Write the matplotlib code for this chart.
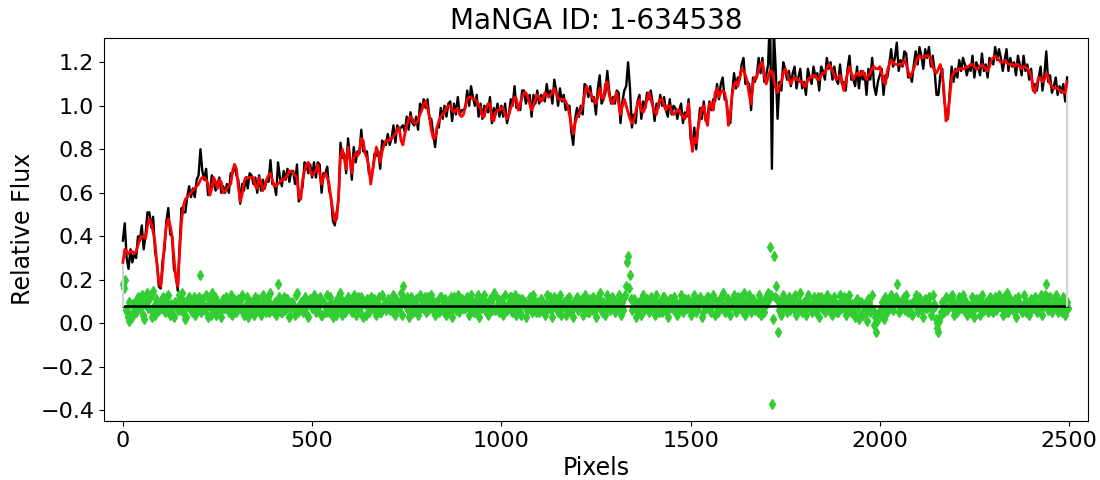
import numpy as np
import matplotlib
matplotlib.use("Agg")
import matplotlib.pyplot as plt

# ---- data (flux values in units of 0.01) ----
title = "MaNGA ID: 1-634538"
pixel_step = 5
baseline = 0.08

# best-fit model (red), sampled every 5 pixels from pixel 0
model_c = [
    28,34,33,32,33,33,32,33,36,39,40,40,39,45,48,46,42,37,27,19,
    17,25,37,45,48,45,40,30,21,17,33,47,54,57,58,59,60,61,62,63,
    64,66,67,67,66,64,59,62,67,65,62,66,65,60,61,62,63,64,70,73,
    71,63,56,59,65,67,67,67,67,67,63,62,67,65,61,63,66,68,69,66,
    63,63,64,65,66,66,67,68,70,70,69,68,67,58,57,66,70,73,74,70,
    68,69,70,73,69,64,67,69,67,64,57,52,47,48,58,77,80,76,71,81,
    76,69,76,78,77,79,85,84,78,76,72,64,70,76,81,78,74,79,82,84,
    84,84,85,86,87,89,90,84,82,87,91,94,95,94,92,92,93,96,98,101,
    102,99,95,89,85,85,90,93,95,96,97,99,100,100,98,97,98,99,96,95,
    96,100,103,104,104,103,103,102,100,99,95,95,99,101,101,94,93,97,98,98,
    99,99,96,94,96,99,101,104,103,98,101,104,106,106,104,101,98,100,103,105,
    104,102,103,106,105,104,105,106,108,106,103,103,103,103,102,100,96,91,87,92,
    95,96,98,100,105,109,107,106,104,103,101,104,108,104,103,110,111,105,102,101,
    104,106,101,96,100,103,100,97,94,92,93,97,101,103,98,97,99,103,106,103,
    100,97,96,101,103,103,100,98,100,100,97,96,97,98,98,96,95,94,96,101,
    89,79,85,83,90,95,99,100,94,91,101,101,98,106,108,104,106,107,106,102,
    91,96,105,110,111,109,113,117,116,114,111,105,101,110,113,113,117,119,120,114,
    110,113,116,116,112,108,106,109,111,115,117,115,112,110,112,113,112,112,111,111,
    109,109,112,113,113,114,114,112,112,114,115,115,117,119,118,116,114,112,113,114,
    111,107,111,115,118,115,112,114,115,114,114,116,114,112,114,115,117,118,117,117,
    118,115,111,110,116,119,121,120,119,119,119,119,119,121,119,116,113,115,117,120,
    122,123,122,122,123,123,123,122,118,116,115,117,119,115,106,93,95,104,113,115,
    116,116,117,117,117,117,118,118,119,119,118,117,117,118,119,118,117,116,118,121,
    122,123,122,121,120,120,121,120,119,119,119,118,119,119,118,117,118,118,117,116,
    114,108,106,110,113,113,111,112,115,113,110,109,108,108,108,107,107,106,106,111,
]

# residuals (green diamonds minus the 0.08 offset) at the model pixels
resid_c = [
    10,12,-3,-7,1,-5,0,-3,4,-1,5,-6,2,6,3,-2,7,-4,1,-2,
    -1,4,-3,2,5,-4,0,-5,1,-2,3,6,-3,-6,0,4,-2,1,-4,3,
    4,14,3,-1,5,-5,0,6,-2,-4,2,1,-5,3,-1,2,-3,5,-1,0,
    -3,3,-1,5,-4,0,-5,2,1,-3,4,-2,1,-4,5,-1,0,-3,6,-2,
    1,-4,10,2,-3,4,-1,3,-5,0,1,-4,6,-2,2,-3,4,0,-5,3,
    -1,5,-3,1,4,-4,2,0,5,-3,1,-5,-2,3,-1,6,-4,2,-2,4,
    0,-3,5,-4,2,-1,4,-5,1,3,-3,4,0,2,-4,1,-3,5,1,-2,
    3,-2,0,5,-4,2,-1,6,9,1,4,-5,2,-2,-1,3,-4,5,0,2,
    -3,4,-1,5,2,-4,0,-3,4,-2,3,-4,1,2,-5,4,-2,5,0,3,
    2,-1,4,-4,5,1,-3,3,-5,2,-1,5,0,-4,3,-2,6,-1,3,-3,
    1,-4,5,-2,0,4,-1,5,-4,2,-3,3,1,-5,0,4,-3,5,-2,2,
    -3,3,1,-4,5,0,2,-5,4,1,-3,5,-1,2,-4,0,4,-3,-5,2,
    4,-1,2,-4,5,0,-3,3,-2,1,-5,4,6,-3,0,-4,5,2,-1,3,
    -3,1,5,-4,2,4,9,23,14,-2,3,-5,1,2,-4,5,0,3,-3,4,
    1,-4,5,-2,2,-3,4,0,-5,3,-1,4,2,-4,0,5,-3,3,-1,2,
    -4,2,5,-3,0,4,-5,2,-1,4,1,-3,5,-4,2,-1,4,6,-3,0,
    3,-4,1,5,-3,4,-1,2,6,-4,0,5,-3,3,-2,1,5,-4,2,-3,
    4,6,27,-45,23,9,-12,2,-4,5,0,-3,4,-1,3,5,-4,1,6,-3,
    2,-4,5,0,-3,4,-1,3,-5,4,1,-3,5,-2,2,-4,4,0,-3,5,
    -1,4,-4,2,5,-3,0,-5,3,-6,2,-4,1,-7,3,-3,5,-9,-12,-6,
    -4,2,-6,4,-3,0,5,-2,3,10,-3,2,-1,4,5,-3,1,-4,2,5,
    -3,4,1,-5,3,-1,4,-4,5,0,-10,-12,-5,2,-3,4,-1,3,5,-4,
    1,-3,4,-1,5,2,-4,0,-3,4,-5,3,1,-4,5,-2,2,-3,4,0,
    -3,4,-1,5,2,-4,0,6,-3,3,-1,2,-5,4,1,-3,5,-2,2,-4,
    3,-1,4,-3,0,5,-4,2,10,-2,4,-3,1,5,-3,2,-1,4,-4,2,
]

# residuals of the pixels lying halfway between the model samples
resid_mid_c = [
    8,-2,-5,2,-4,1,-2,3,0,3,-4,1,5,-1,4,-5,0,3,-2,1,
    3,-1,0,4,-3,1,-4,2,-1,5,-2,0,2,-5,3,1,-3,4,0,-2,
    2,-3,1,-2,0,3,-4,2,4,-1,0,-3,2,-1,4,-2,1,-4,3,1,
    -2,1,3,-3,0,4,-2,-1,2,-4,1,3,-1,0,2,-3,4,1,-2,0,
    2,-1,4,-3,1,-2,3,0,-4,2,-1,5,-3,1,0,-2,3,-4,1,2,
    1,-2,3,0,-4,2,1,-3,0,4,-2,1,-4,2,0,3,-1,-3,2,1,
    -2,3,0,-1,4,-3,1,2,-4,0,2,-1,3,-2,1,4,-3,0,2,-1,
    1,2,-3,0,3,-1,2,-4,3,0,-2,1,4,-3,1,0,-2,3,-1,4,
    0,-2,3,1,-3,2,-1,4,0,-3,2,1,-2,4,-1,0,3,-3,1,-1,
    -1,3,0,-2,2,-3,1,5,-1,0,3,-2,1,-3,2,4,-2,0,1,-1,
    3,0,-2,1,4,-3,2,0,-1,3,-4,1,2,-2,0,3,-1,2,-3,1,
    0,2,-3,1,-1,4,-2,0,3,-1,2,-4,1,0,3,-2,1,-1,2,0,
    -2,1,3,-1,0,2,-3,1,4,-2,0,3,-1,2,-3,1,0,-2,4,-1,
    2,-1,0,3,-2,5,20,8,3,-1,2,0,-3,1,3,-2,1,0,-1,2,
    -1,2,0,-3,1,4,-2,1,-1,3,0,-2,1,-3,2,0,1,-1,3,-2,
    0,-1,3,-2,1,2,-3,0,4,-1,-2,1,3,0,-3,2,1,-2,0,3,
    -1,2,0,3,-2,1,4,-3,0,2,-1,3,-2,1,0,-3,2,1,-1,0,
    2,3,5,-6,4,3,-2,1,3,-1,2,0,-2,1,4,-3,0,2,-1,1,
    -1,3,0,-2,2,1,-3,4,0,-1,2,-2,1,3,-1,0,2,-3,1,0,
    2,-1,3,0,-2,1,-3,2,0,-4,1,-2,-3,0,2,-1,-2,-5,-7,-3,
    -2,1,0,-3,2,-1,3,1,4,2,-1,0,3,-2,1,0,-3,2,1,-1,
    2,0,-2,1,-1,3,0,-2,1,-6,-8,-7,-3,1,0,-2,3,1,-1,2,
    0,-1,3,1,-2,2,0,-3,1,2,-1,0,3,-2,1,-1,2,0,-2,1,
    1,-2,3,0,-1,4,-3,1,2,0,-2,3,-1,1,0,-2,2,-3,1,0,
    -1,3,0,-2,2,-1,1,5,4,1,-2,0,3,-1,2,0,-3,1,0,-1,
]

model = np.array(model_c) / 100.0
resid = np.array(resid_c) / 100.0
resid_mid = np.array(resid_mid_c) / 100.0
pixels = np.arange(model.size) * pixel_step
pixels_mid = pixels + pixel_step / 2
galaxy = model + resid          # observed spectrum = best fit + residual

res_x = np.concatenate([pixels, pixels_mid])
res_y = np.concatenate([resid, resid_mid]) + baseline

# ---- plot ----
fig = plt.figure(figsize=(11, 4.8), dpi=100)
ax = fig.add_axes([0.0945, 0.123, 0.8945, 0.7985])

ax.plot(pixels, galaxy, color='black', lw=1.7)
ax.plot(res_x, res_y, 'd', color='limegreen', mec='limegreen', ms=5)
ax.plot(pixels, np.full(pixels.size, baseline), color='black', lw=1.8)
for k in (0, -1):
    ax.plot([pixels[k], pixels[k]], [baseline, model[k]], color='lightgray', lw=1.5)
ax.plot(pixels, model, color='red', lw=2)

npix = 2500
ax.set_xlim(-0.02 * npix, 1.02 * npix)
ax.set_ylim(-0.449, 1.313)
ax.set_xticks([0, 500, 1000, 1500, 2000, 2500])
ax.set_yticks([-0.4, -0.2, 0.0, 0.2, 0.4, 0.6, 0.8, 1.0, 1.2])
ax.tick_params(labelsize=16)
ax.set_xlabel("Pixels", fontsize=17)
ax.set_ylabel("Relative Flux", fontsize=17)
ax.set_title(title, fontsize=20)

fig.savefig("out.png", dpi=100)
